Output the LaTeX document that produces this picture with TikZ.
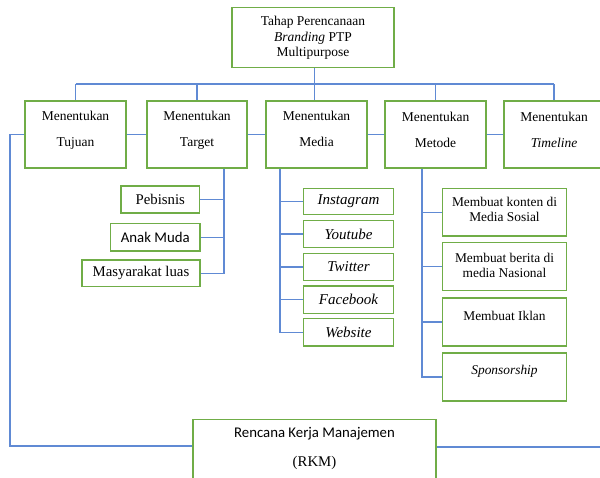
\documentclass[tikz,border=0pt]{standalone}
\usepackage{fontspec}
\setmainfont{Liberation Serif}
\newfontfamily\calib{Carlito}
\usetikzlibrary{backgrounds}
\definecolor{bx}{RGB}{112,173,71}
\definecolor{ln}{RGB}{96,138,212}
\begin{document}
\begin{tikzpicture}[x=1pt,y=-1pt,
 box/.style={draw=bx,line width=1.2pt,fill=white,inner sep=0pt},
 conn/.style={draw=ln,line width=1.3pt},
 txt/.style={inner sep=0pt,font=\fontsize{13.5}{15.5}\selectfont,align=center},
 rowtxt/.style={inner sep=0pt,font=\fontsize{13.5}{26}\selectfont,align=center},
 itxt/.style={inner sep=0pt,font=\fontsize{15}{17}\selectfont\itshape,align=center},
 stxt/.style={inner sep=0pt,font=\fontsize{14.8}{17}\selectfont,align=center},
 mtxt/.style={inner sep=0pt,font=\fontsize{13.4}{15}\selectfont,align=center},
]
\clip (0,0) rectangle (600,477);
% coordinates for connector free ends / bus positions
\coordinate (bus) at (0,84);
\coordinate (cv) at (314.5,0);
\coordinate (tv) at (224,0);
\coordinate (mv) at (280,0);
\coordinate (ev) at (422,0);
\coordinate (lc) at (10,134.5);
\coordinate (lb) at (10,446);
\coordinate (rr) at (600,447);
% main boxes
\node[box,minimum width=162,minimum height=60] (top) at (313,37.5) {};
\node[box,minimum width=101,minimum height=67] (tuj) at (75.5,134.5) {};
\node[box,minimum width=100,minimum height=67] (tar) at (197,134.5) {};
\node[box,minimum width=101,minimum height=67] (med) at (316.5,134.5) {};
\node[box,minimum width=101,minimum height=67] (met) at (435.5,134.5) {};
\node[box,minimum width=100,minimum height=67] (tim) at (554,134.5) {};
% sub boxes
\node[box,minimum width=78.5,minimum height=27] (peb) at (160.25,199.5) {};
\node[box,minimum width=89.5,minimum height=27.5] (anak) at (155.25,237.25) {};
\node[box,minimum width=118,minimum height=26.5] (masy) at (141,273.25) {};
\node[box,minimum width=90,minimum height=26] (ins) at (348.5,201.5) {};
\node[box,minimum width=90,minimum height=27] (you) at (348.5,234) {};
\node[box,minimum width=90,minimum height=27] (twi) at (348.5,267) {};
\node[box,minimum width=90,minimum height=27.5] (fac) at (348.5,299.75) {};
\node[box,minimum width=90,minimum height=27.5] (web) at (348.5,332.25) {};
\node[box,minimum width=124,minimum height=47.5] (m1) at (504.5,212.25) {};
\node[box,minimum width=124,minimum height=48] (m2) at (504.5,266.5) {};
\node[box,minimum width=124,minimum height=48] (m3) at (504.5,322) {};
\node[box,minimum width=124,minimum height=48] (m4) at (504.5,377) {};
\node[box,minimum width=243,minimum height=70.5] (rkm) at (314.5,454.75) {};
% texts
\node[txt] (ttop) at (313,38) {Tahap Perencanaan\\\textit{Branding} PTP\\Multipurpose};
\node[rowtxt] (ttuj) at (75.5,130) {Menentukan\\Tujuan};
\node[rowtxt] (ttar) at (197,130) {Menentukan\\Target};
\node[rowtxt] (tmed) at (316.5,128.5) {Menentukan\\Media};
\node[rowtxt] (tmet) at (435.5,130) {Menentukan\\Metode};
\node[rowtxt] (ttim) at (554,130) {Menentukan\\\textit{Timeline}};
\node[stxt] (tpeb) at (peb.center) {Pebisnis};
\node[stxt,font=\fontsize{14.8}{17}\calib] (tanak) at (anak.center) {Anak Muda};
\node[stxt] (tmasy) at (masy.center) {Masyarakat luas};
\node[itxt] (tins) at (ins.center) {Instagram};
\node[itxt] (tyou) at (you.center) {Youtube};
\node[itxt] (ttwi) at (twi.center) {Twitter};
\node[itxt] (tfac) at (fac.center) {Facebook};
\node[itxt] (tweb) at (web.center) {Website};
\node[mtxt] (tm1) at (504.5,209.5) {Membuat konten di\\Media Sosial};
\node[mtxt] (tm2) at (504.5,265) {Membuat berita di\\media Nasional};
\node[mtxt] (tm3) at (504.5,316) {Membuat Iklan};
\node[mtxt,font=\fontsize{13.4}{15}\selectfont\itshape] (tm4) at (504.5,371) {Sponsorship};
\node[stxt,font=\fontsize{14.8}{17}\calib] (trkm1) at (314.5,434) {Rencana Kerja Manajemen};
\node[stxt] (trkm2) at (314.5,463) {(RKM)};
% connectors (behind boxes)
\begin{scope}[on background layer]
\fill[white] (0,0) rectangle (600,477);
\draw[conn] (top.south -| cv) -- (med.north -| cv);
\draw[conn] (tuj.north |- bus) -- (tim.north |- bus);
\foreach \n in {tuj,tar,met,tim} \draw[conn] (\n.north |- bus) -- (\n.north);
\draw[conn] (tim.west) -- (lc) -- (lb) -- (lb -| rkm.west);
\draw[conn] (rkm.east |- rr) -- (rr);
\draw[conn] (tar.south -| tv) |- (masy.east);
\draw[conn] (peb.east) -- (peb.east -| tv);
\draw[conn] (anak.east) -- (anak.east -| tv);
\draw[conn] (med.south -| mv) |- (web.west);
\foreach \n in {ins,you,twi,fac} \draw[conn] (\n.west) -- (\n.west -| mv);
\draw[conn] (met.south -| ev) |- (m4.west);
\foreach \n in {m1,m2,m3} \draw[conn] (\n.west) -- (\n.west -| ev);
\end{scope}
\end{tikzpicture}
\end{document}
